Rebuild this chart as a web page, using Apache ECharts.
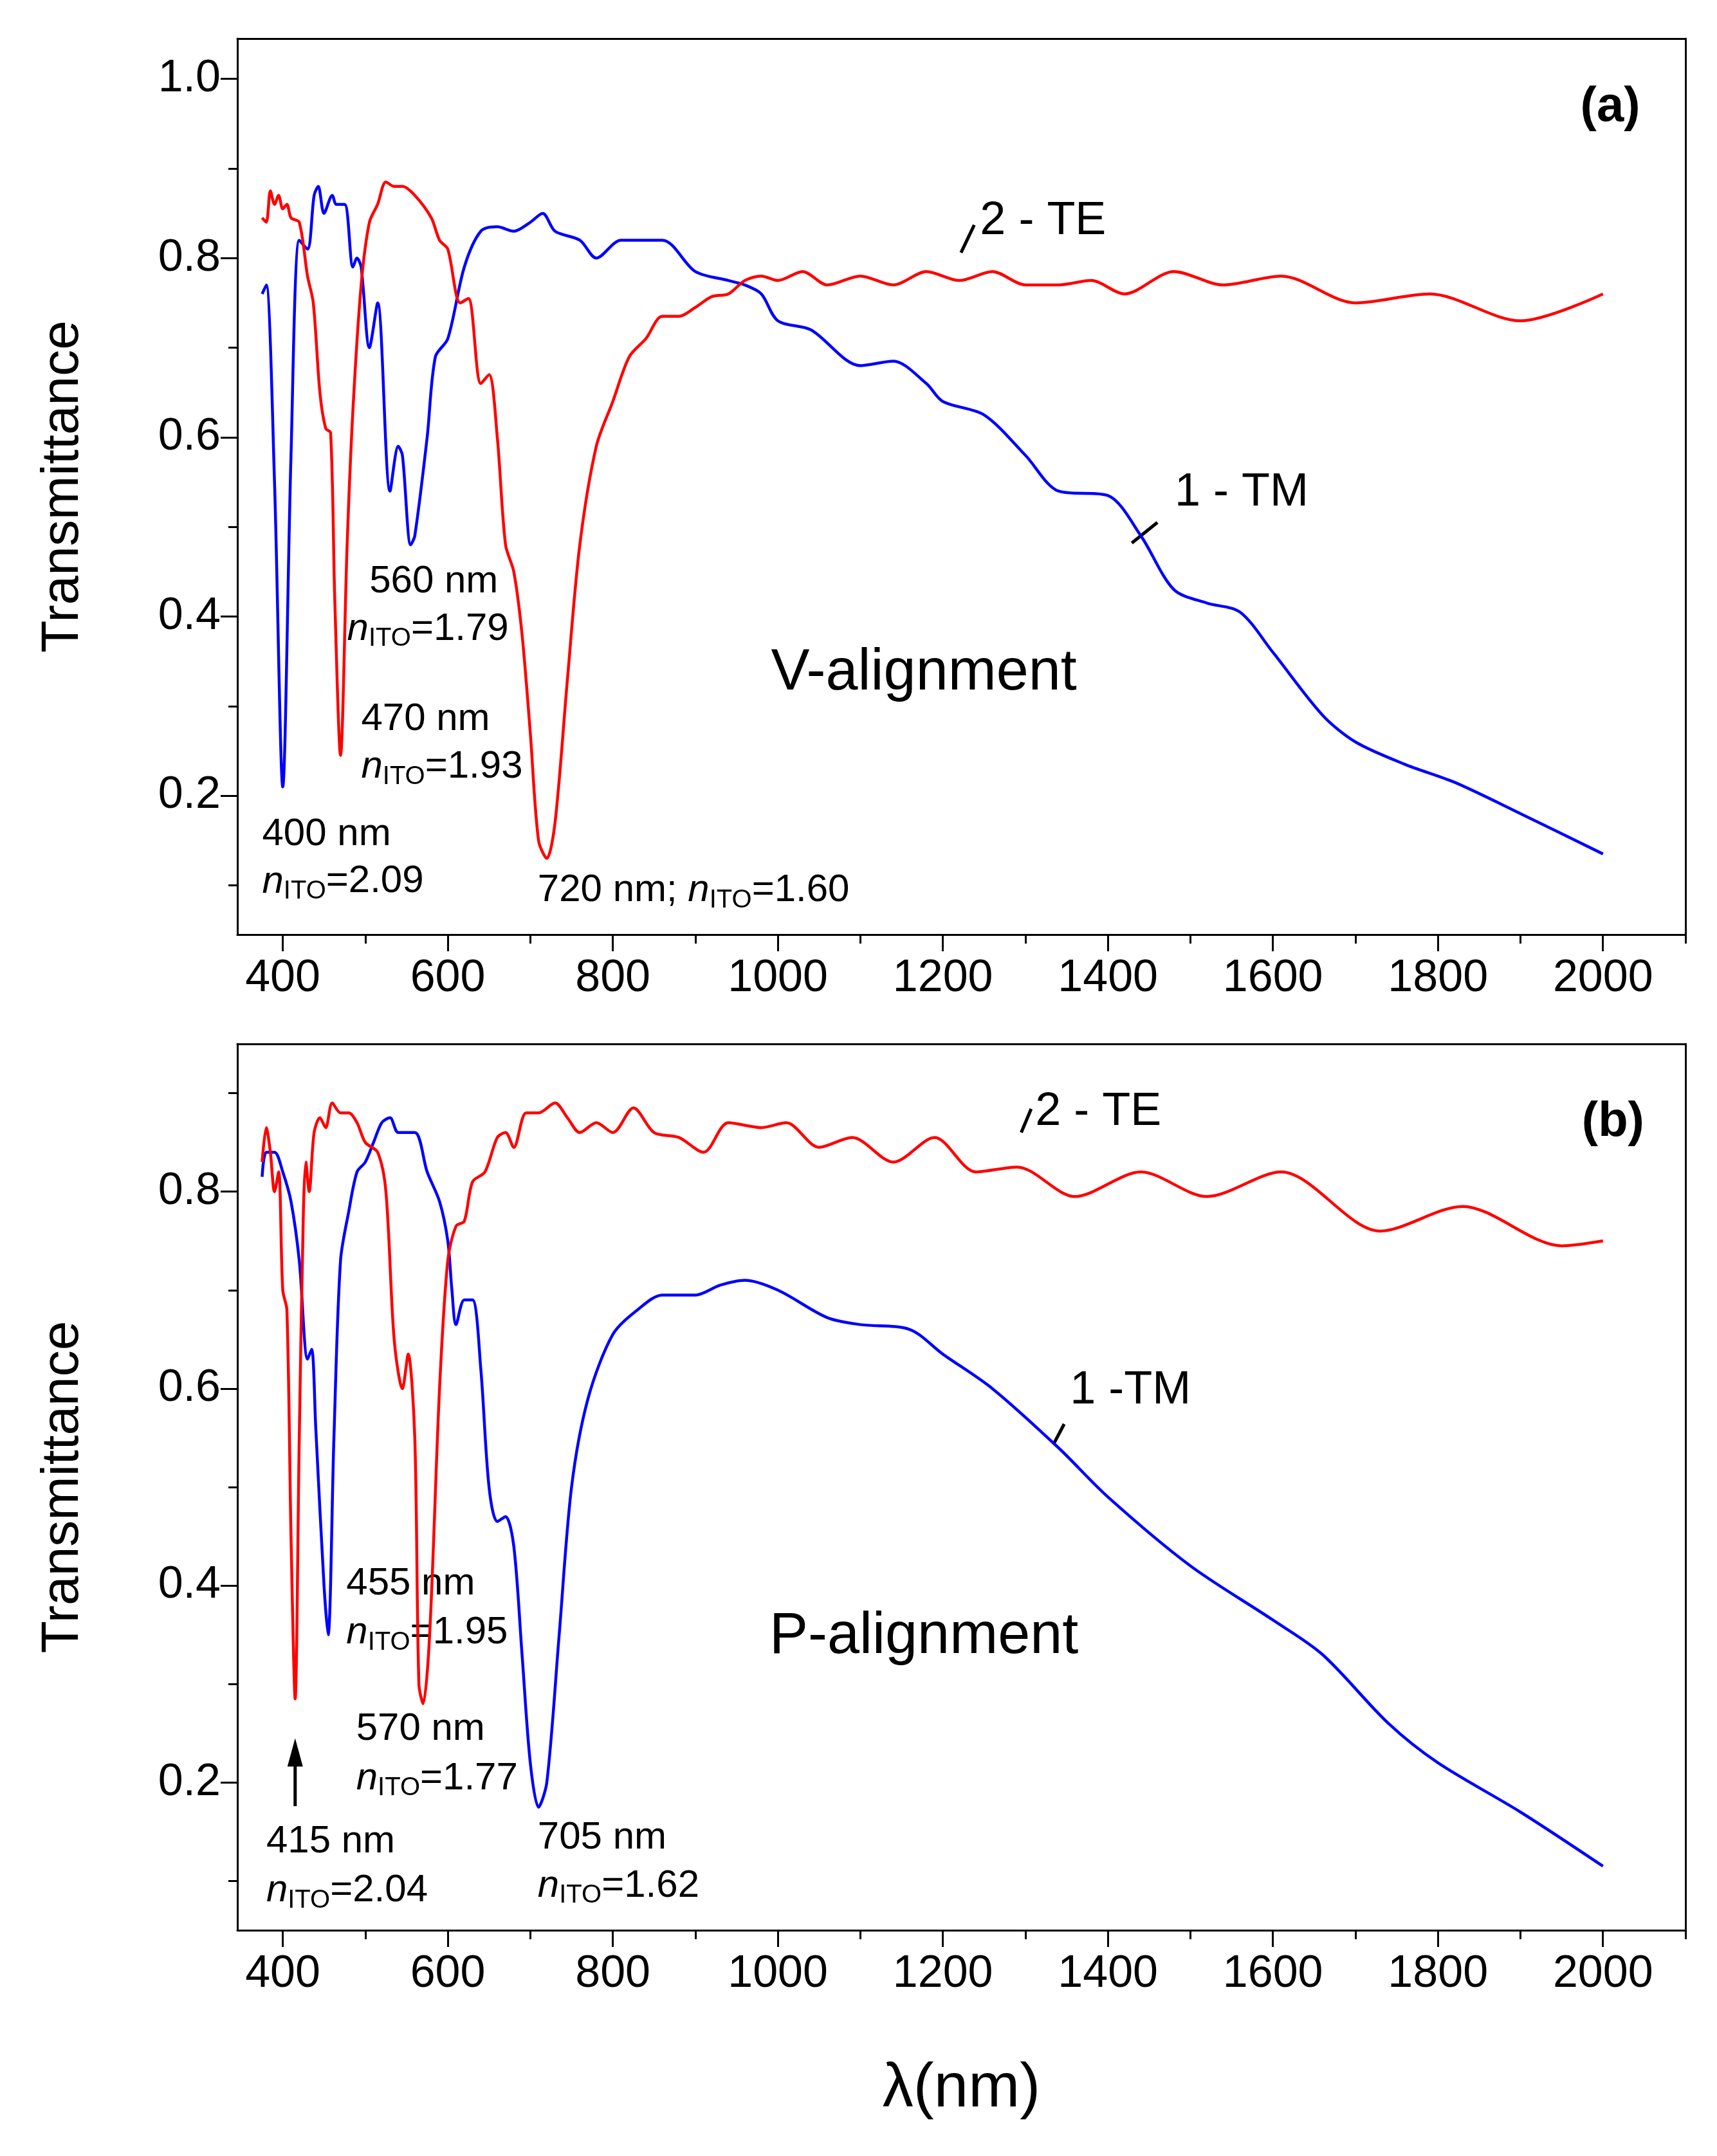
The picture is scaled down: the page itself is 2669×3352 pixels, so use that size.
<!DOCTYPE html>
<html>
<head>
<meta charset="utf-8">
<script src="https://cdn.jsdelivr.net/npm/echarts@6/dist/echarts.min.js"></script>
<style>
  html, body { margin: 0; padding: 0; background: #fff; }
  #chart { width: 2669px; height: 3352px; }
</style>
</head>
<body>
<div id="chart"></div>
<script>
// panel (a) V-alignment
const aTM = [[375,0.76],[380,0.77],[390,0.55],[400,0.21],[410,0.58],[420,0.82],[430,0.81],[438,0.87],[443,0.88],[450,0.85],[460,0.87],[465,0.86],[475,0.86],[485,0.79],[490,0.80],[495,0.79],[505,0.70],[515,0.75],[530,0.54],[540,0.59],[545,0.58],[555,0.48],[560,0.49],[575,0.60],[585,0.69],[600,0.71],[620,0.79],[640,0.83],[660,0.835],[680,0.83],[700,0.84],[715,0.85],[730,0.83],[760,0.82],[780,0.80],[810,0.82],[860,0.82],[900,0.785],[940,0.775],[960,0.77],[980,0.76],[1000,0.73],[1040,0.72],[1100,0.68],[1140,0.685],[1180,0.66],[1200,0.64],[1250,0.625],[1300,0.58],[1340,0.54],[1400,0.535],[1440,0.49],[1480,0.43],[1520,0.415],[1560,0.405],[1600,0.36],[1660,0.29],[1700,0.26],[1760,0.235],[1820,0.215],[1900,0.18],[2000,0.135]];
const aTE = [[375,0.845],[380,0.84],[385,0.875],[390,0.86],[395,0.87],[400,0.855],[405,0.86],[410,0.845],[420,0.84],[430,0.78],[437,0.75],[445,0.65],[452,0.61],[458,0.605],[463,0.42],[470,0.245],[478,0.48],[485,0.63],[495,0.77],[505,0.84],[515,0.86],[525,0.885],[535,0.88],[545,0.88],[560,0.87],[580,0.845],[590,0.82],[600,0.81],[615,0.75],[625,0.755],[640,0.66],[650,0.67],[660,0.60],[670,0.48],[680,0.45],[690,0.38],[700,0.27],[710,0.15],[720,0.13],[730,0.17],[745,0.33],[760,0.48],[780,0.59],[800,0.64],[820,0.69],[840,0.71],[860,0.735],[880,0.735],[900,0.745],[920,0.757],[940,0.76],[960,0.775],[980,0.78],[1000,0.775],[1030,0.785],[1060,0.77],[1100,0.78],[1140,0.77],[1180,0.785],[1220,0.775],[1260,0.785],[1300,0.77],[1340,0.77],[1380,0.775],[1420,0.76],[1480,0.785],[1540,0.77],[1610,0.78],[1700,0.75],[1790,0.76],[1900,0.73],[2000,0.76]];
// panel (b) P-alignment
const bTM = [[375,0.815],[380,0.84],[390,0.84],[400,0.82],[410,0.79],[420,0.73],[430,0.63],[435,0.64],[440,0.56],[450,0.40],[455,0.35],[462,0.55],[470,0.73],[480,0.78],[490,0.82],[500,0.83],[510,0.85],[520,0.87],[530,0.875],[540,0.86],[560,0.86],[575,0.82],[590,0.79],[600,0.75],[605,0.70],[610,0.665],[620,0.69],[630,0.69],[640,0.62],[650,0.50],[660,0.465],[670,0.47],[680,0.44],[690,0.33],[700,0.22],[710,0.175],[720,0.20],[735,0.35],[750,0.50],[770,0.59],[800,0.655],[830,0.68],[860,0.695],[900,0.695],[930,0.705],[960,0.71],[1000,0.70],[1060,0.672],[1100,0.665],[1160,0.66],[1200,0.635],[1260,0.60],[1340,0.54],[1400,0.49],[1500,0.42],[1600,0.365],[1660,0.33],[1740,0.26],[1800,0.22],[1900,0.17],[2000,0.115]];
const bTE = [[375,0.83],[380,0.865],[385,0.84],[390,0.80],[395,0.82],[400,0.70],[405,0.68],[410,0.45],[415,0.285],[420,0.55],[425,0.78],[428,0.83],[432,0.80],[438,0.86],[445,0.875],[452,0.865],[460,0.89],[470,0.88],[480,0.88],[490,0.87],[500,0.85],[515,0.84],[525,0.80],[535,0.65],[545,0.60],[552,0.635],[560,0.55],[565,0.30],[570,0.28],[578,0.35],[590,0.60],[600,0.73],[610,0.765],[620,0.77],[630,0.81],[645,0.82],[660,0.855],[670,0.86],[680,0.845],[695,0.88],[710,0.88],[730,0.89],[745,0.875],[760,0.86],[780,0.87],[800,0.86],[825,0.885],[850,0.86],[880,0.855],[910,0.84],[940,0.87],[980,0.865],[1010,0.87],[1050,0.845],[1090,0.855],[1140,0.83],[1190,0.855],[1240,0.82],[1290,0.825],[1360,0.795],[1440,0.82],[1520,0.795],[1610,0.82],[1730,0.76],[1830,0.785],[1950,0.745],[2000,0.75]];

const xLabels = [400, 600, 800, 1000, 1200, 1400, 1600, 1800, 2000];
const xMinor = [400, 500, 600, 700, 800, 900, 1000, 1100, 1200, 1300, 1400, 1500, 1600, 1700, 1800, 1900, 2000, 2100];
const aYTicks = [0.2, 0.4, 0.6, 0.8, 1.0];
const aYMinor = [0.1, 0.2, 0.3, 0.4, 0.5, 0.6, 0.7, 0.8, 0.9, 1.0];
const bYTicks = [0.2, 0.4, 0.6, 0.8];
const bYMinor = [0.1, 0.2, 0.3, 0.4, 0.5, 0.6, 0.7, 0.8, 0.9];

// annotations: [panel, lambda, T, text]
const notes = [
  [0, 505, 0.439, '560 nm'], [0, 478, 0.386, 'n|1.79'],
  [0, 495, 0.285, '470 nm'], [0, 495, 0.232, 'n|1.93'],
  [0, 375, 0.157, '400 nm'], [0, 375, 0.104, 'n|2.09'],
  [0, 709, 0.094, '720 nm; n|1.60'],
  [0, 1245, 0.841, '2 - TE'], [0, 1481, 0.538, '1 - TM'],
  [1, 477, 0.402, '455 nm'], [1, 477, 0.352, 'n|1.95'],
  [1, 489, 0.254, '570 nm'], [1, 489, 0.204, 'n|1.77'],
  [1, 380, 0.140, '415 nm'], [1, 380, 0.090, 'n|2.04'],
  [1, 709, 0.144, '705 nm'], [1, 709, 0.095, 'n|1.62'],
  [1, 1312, 0.881, '2 - TE'], [1, 1354, 0.598, '1 -TM']
];
const bigNotes = [[0, 1177, 0.336, 'V-alignment'], [1, 1177, 0.348, 'P-alignment']];
const panelTags = [[0, 2045, 0.968, '(a)'], [1, 2050, 0.87, '(b)']];
const leaders = [
  [0, 1222, 0.806, 1238, 0.837], [0, 1429, 0.482, 1460, 0.505],
  [1, 1295, 0.86, 1307, 0.884], [1, 1335, 0.545, 1347, 0.564]
];
const arrow = [1, 415, 0.176, 415, 0.245];

const FONT = 'Liberation Sans';
const grids = [
  {left: 369, right: 49, top: 60, height: 1393},
  {left: 369, right: 49, top: 1623, height: 1378}
];
const yRanges = [[0.045, 1.045], [0.05, 0.95]];

function xAxes(gi) {
  const base = {type: 'value', gridIndex: gi, min: 345, max: 2100, splitLine: {show: false}};
  return [
    Object.assign({}, base, {
      position: 'bottom',
      axisLine: {lineStyle: {color: '#000', width: 3}},
      axisTick: {customValues: xLabels, length: 26, lineStyle: {color: '#000', width: 3}},
      axisLabel: {customValues: xLabels, color: '#000', fontSize: 70, fontFamily: FONT, margin: 34,
        formatter: v => String(v)},
      name: gi === 1 ? 'λ(nm)' : '', nameLocation: 'middle', nameGap: 200,
      nameTextStyle: {fontSize: 96, fontFamily: FONT, color: '#000'}
    }),
    Object.assign({}, base, {
      position: 'bottom',
      axisLine: {show: false},
      axisTick: {customValues: xMinor, length: 14, lineStyle: {color: '#000', width: 3}},
      axisLabel: {show: false}
    }),
    Object.assign({}, base, {position: 'top', axisLine: {lineStyle: {color: '#000', width: 3}},
      axisTick: {show: false}, axisLabel: {show: false}})
  ];
}
function yAxes(gi, ticks, minor) {
  const base = {type: 'value', gridIndex: gi, min: yRanges[gi][0], max: yRanges[gi][1], splitLine: {show: false}};
  return [
    Object.assign({}, base, {
      position: 'left',
      axisLine: {lineStyle: {color: '#000', width: 3}},
      axisTick: {customValues: ticks, length: 26, lineStyle: {color: '#000', width: 3}},
      axisLabel: {customValues: ticks, color: '#000', fontSize: 70, fontFamily: FONT, margin: 26,
        formatter: v => v.toFixed(1)},
      name: 'Transmittance', nameLocation: 'middle', nameGap: 230,
      nameTextStyle: {fontSize: 82, fontFamily: FONT, color: '#000'}
    }),
    Object.assign({}, base, {
      position: 'left',
      axisLine: {show: false},
      axisTick: {customValues: minor, length: 14, lineStyle: {color: '#000', width: 3}},
      axisLabel: {show: false}
    }),
    Object.assign({}, base, {position: 'right', axisLine: {lineStyle: {color: '#000', width: 3}},
      axisTick: {show: false}, axisLabel: {show: false}})
  ];
}

const chart = echarts.init(document.getElementById('chart'), null, {renderer: 'canvas'});
const line = (data, color, xi, yi) => ({
  type: 'line', data, xAxisIndex: xi, yAxisIndex: yi, showSymbol: false, symbol: 'none',
  smooth: 0.3, lineStyle: {color, width: 4.5}, silent: true, z: 3
});

chart.setOption({
  animation: false,
  backgroundColor: '#fff',
  grid: grids,
  xAxis: [...xAxes(0), ...xAxes(1)],
  yAxis: [...yAxes(0, aYTicks, aYMinor), ...yAxes(1, bYTicks, bYMinor)],
  series: [
    line(aTM, '#0000ff', 0, 0), line(aTE, '#ff0000', 0, 0),
    line(bTM, '#0000ff', 3, 3), line(bTE, '#ff0000', 3, 3)
  ]
});

function px(panel, x, y) {
  return chart.convertToPixel({xAxisIndex: panel * 3, yAxisIndex: panel * 3}, [x, y]);
}
const rich = {
  t: {fontSize: 60, fontFamily: FONT, color: '#000'},
  i: {fontSize: 60, fontFamily: FONT, fontStyle: 'italic', color: '#000'},
  s: {fontSize: 40, fontFamily: FONT, color: '#000', padding: [30, 0, 0, 0]}
};
function fmt(s) {
  if (s.indexOf('n|') < 0) return '{t|' + s + '}';
  const [pre, post] = s.split('n|');
  return (pre ? '{t|' + pre + '}' : '') + '{i|n}{s|ITO}{t|=' + post + '}';
}
const g = [];
notes.forEach(([p, x, y, s]) => {
  const [X, Y] = px(p, x, y);
  const big = /TE|TM/.test(s);
  g.push({type: 'text', x: X, y: Y, style: big
    ? {text: s, fontSize: 72, fontFamily: FONT, fill: '#000', verticalAlign: 'middle'}
    : {text: fmt(s), rich, verticalAlign: 'middle'}});
});
bigNotes.forEach(([p, x, y, s]) => {
  const [X, Y] = px(p, x, y);
  g.push({type: 'text', x: X, y: Y, style: {text: s, fontSize: 90, fontFamily: FONT, fill: '#000',
    align: 'center', verticalAlign: 'middle'}});
});
panelTags.forEach(([p, x, y, s]) => {
  const [X, Y] = px(p, x, y);
  g.push({type: 'text', x: X, y: Y, style: {text: s, fontSize: 76, fontWeight: 'bold', fontFamily: FONT,
    fill: '#000', align: 'right', verticalAlign: 'middle'}});
});
leaders.forEach(([p, x1, y1, x2, y2]) => {
  const a = px(p, x1, y1), b = px(p, x2, y2);
  g.push({type: 'line', shape: {x1: a[0], y1: a[1], x2: b[0], y2: b[1]}, style: {stroke: '#000', lineWidth: 5}});
});
{
  const [p, x1, y1, x2, y2] = arrow;
  const a = px(p, x1, y1), b = px(p, x2, y2);
  g.push({type: 'line', shape: {x1: a[0], y1: a[1], x2: b[0], y2: b[1] + 30}, style: {stroke: '#000', lineWidth: 5}});
  g.push({type: 'polygon', shape: {points: [[b[0], b[1]], [b[0] - 12, b[1] + 44], [b[0] + 12, b[1] + 44]]}, style: {fill: '#000'}});
}
chart.setOption({graphic: g});
</script>
</body>
</html>
